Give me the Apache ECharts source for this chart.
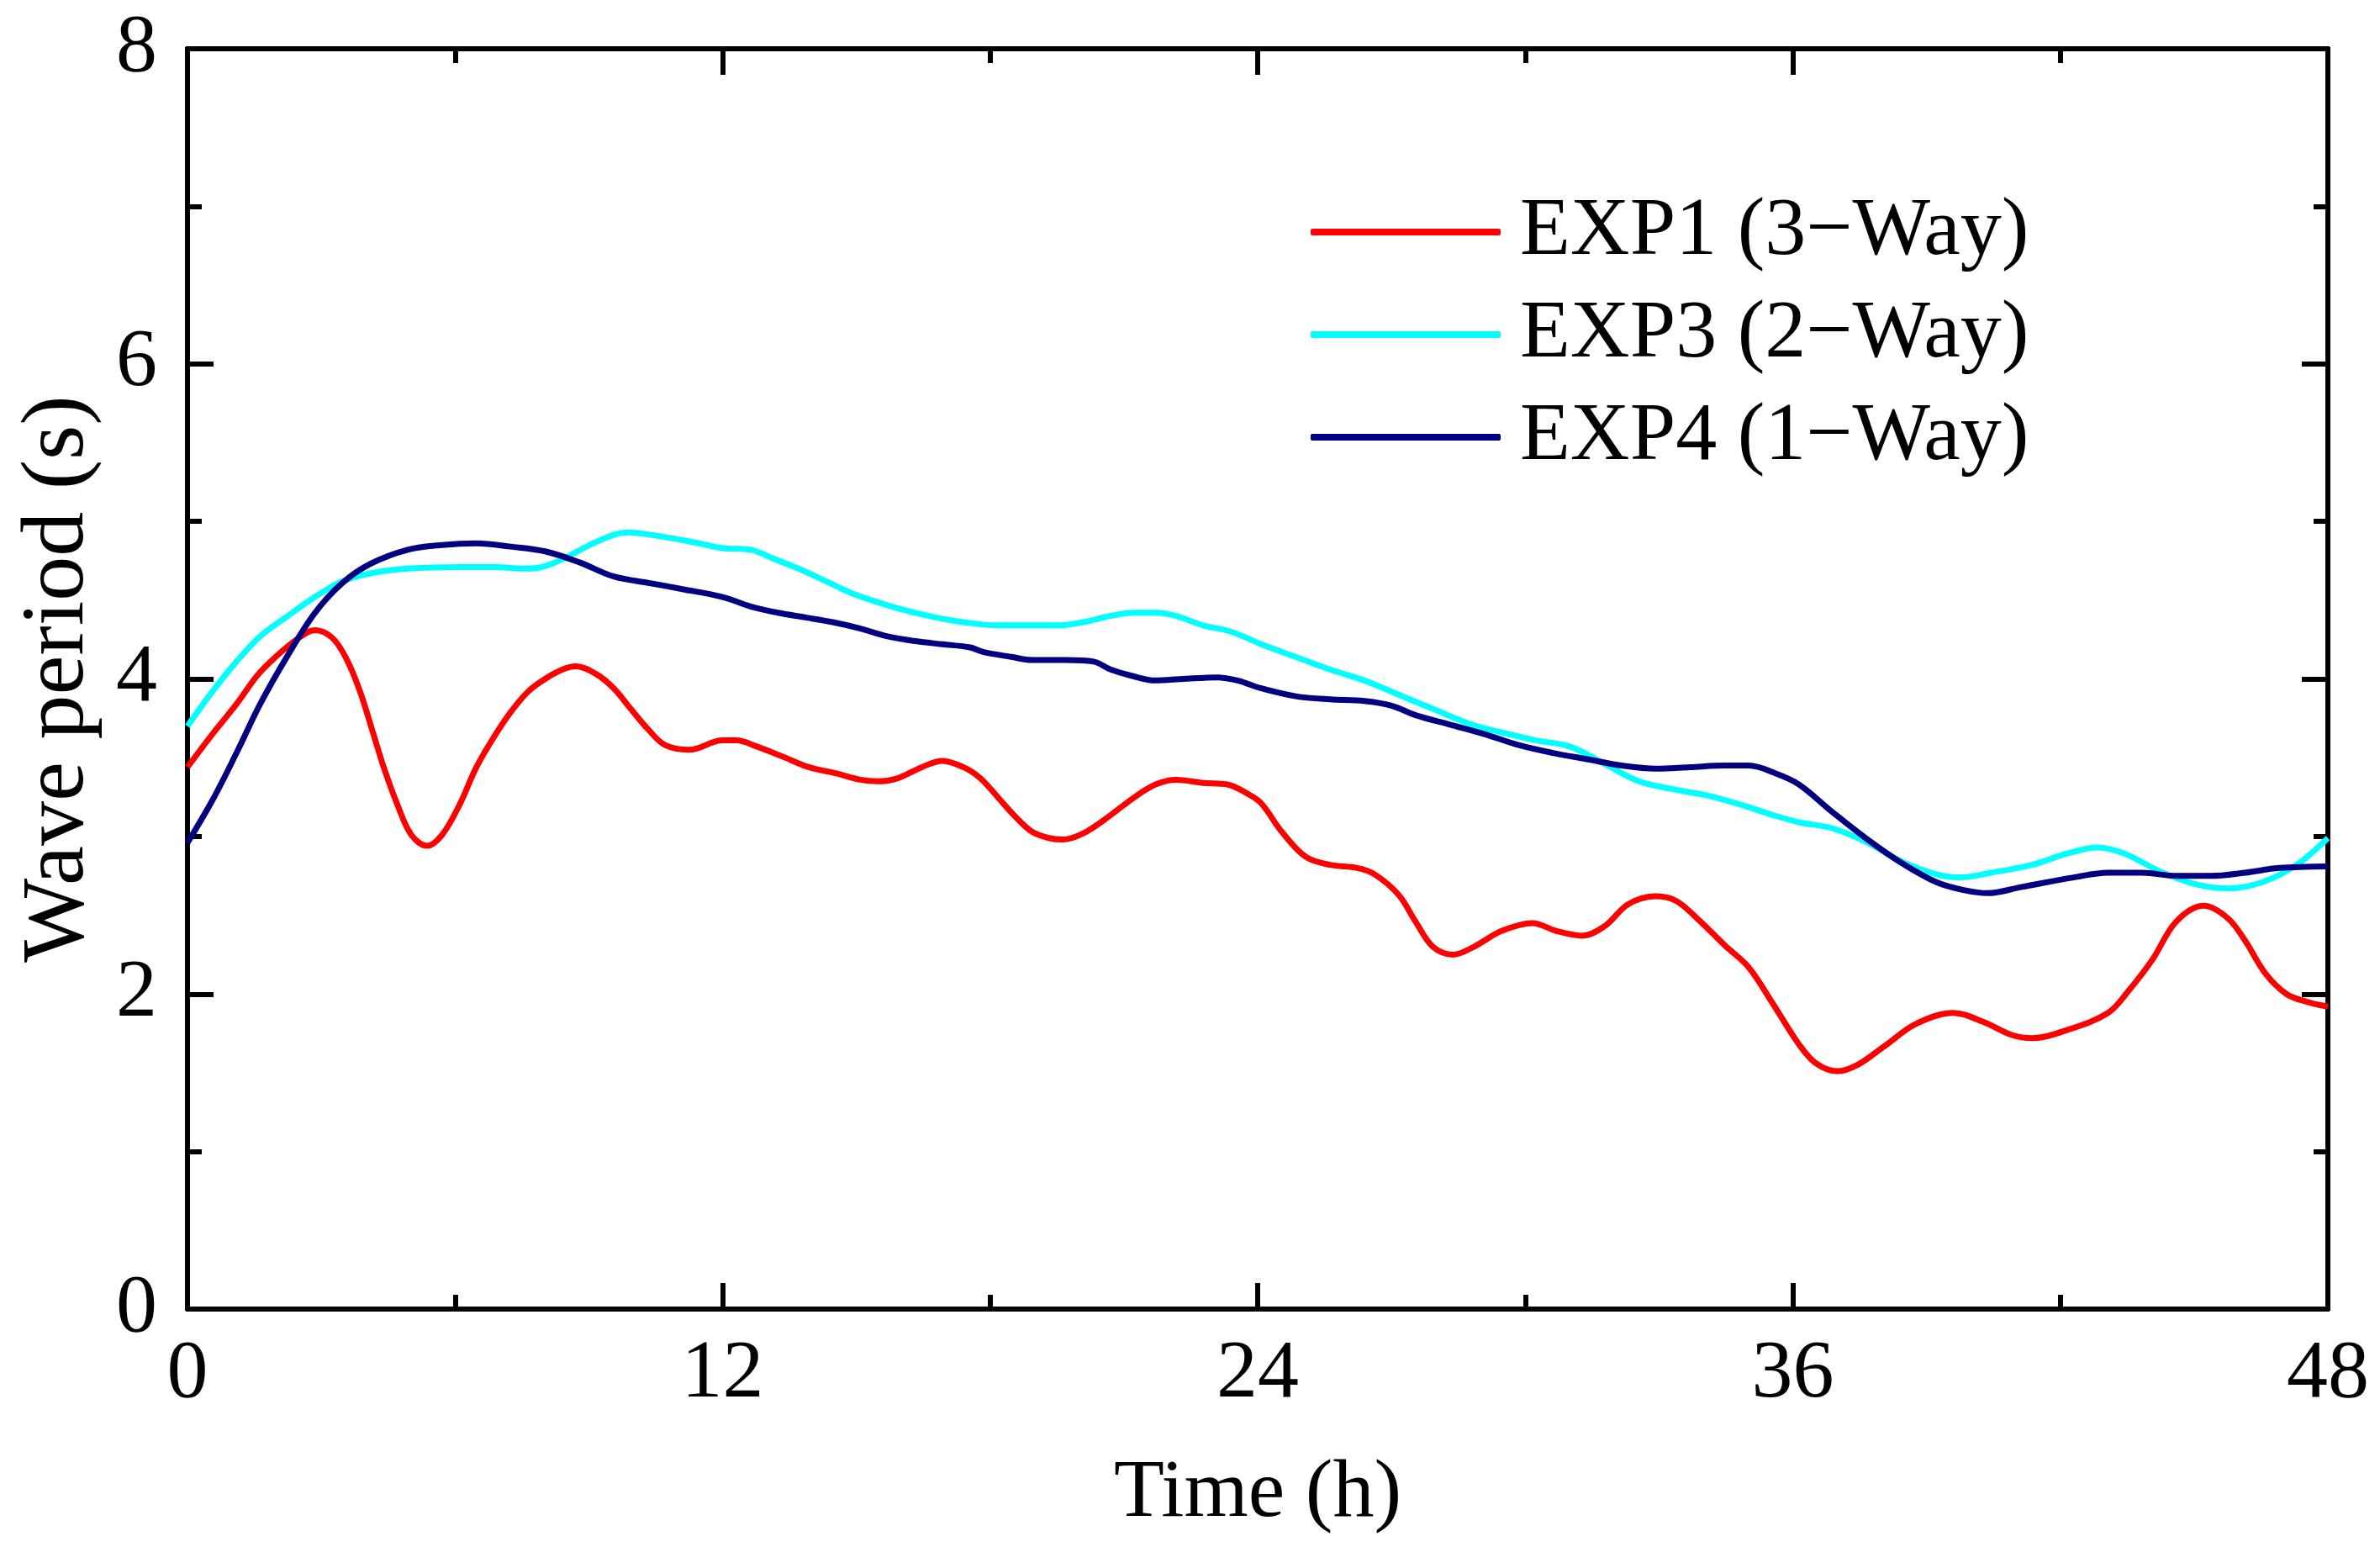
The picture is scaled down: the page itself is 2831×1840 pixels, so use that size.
<!DOCTYPE html>
<html>
<head>
<meta charset="utf-8">
<title>Wave period</title>
<script src="https://cdn.jsdelivr.net/npm/echarts@6/dist/echarts.min.js"></script>
<style>
  html, body { margin: 0; padding: 0; background: #fff; }
  #main { width: 2831px; height: 1840px; }
</style>
</head>
<body>
<div id="main"></div>
<script>
// values (time in hours, wave period in s)
var exp1Time = [0, 0.56, 1.1, 1.56, 1.94, 2.4, 2.86, 3.25, 3.56, 3.87, 4.17, 4.4, 4.71, 5.02, 5.37, 5.71, 6.1, 6.48, 6.87, 7.25, 7.64, 8.02, 8.41, 8.71, 9.17, 9.56, 9.94, 10.33, 10.71, 11.25, 12.0, 12.3, 12.78, 13.32, 13.93, 14.55, 15.09, 15.47, 15.93, 16.47, 16.93, 17.4, 17.78, 18.17, 18.55, 18.94, 19.32, 19.63, 20.09, 20.63, 21.24, 21.71, 22.17, 22.78, 23.32, 23.78, 24.08, 24.54, 25.08, 25.62, 26.23, 26.62, 27.16, 27.54, 27.93, 28.39, 28.85, 29.47, 30.16, 30.7, 31.28, 31.78, 32.31, 32.93, 33.39, 33.93, 34.47, 35.01, 35.55, 36.14, 36.52, 36.99, 37.45, 38.06, 38.76, 39.6, 40.3, 40.91, 41.37, 42.14, 43.07, 43.53, 44.07, 44.6, 45.22, 45.76, 46.14, 46.6, 47.07, 47.53, 48.0];
var exp1Period = [3.44, 3.65, 3.84, 4.02, 4.13, 4.24, 4.31, 4.26, 4.13, 3.92, 3.65, 3.44, 3.20, 3.01, 2.94, 3.01, 3.20, 3.44, 3.63, 3.79, 3.92, 4.00, 4.06, 4.08, 4.03, 3.94, 3.81, 3.68, 3.58, 3.55, 3.61, 3.61, 3.57, 3.51, 3.44, 3.40, 3.36, 3.35, 3.37, 3.44, 3.48, 3.44, 3.37, 3.25, 3.13, 3.03, 2.99, 2.98, 3.02, 3.12, 3.25, 3.33, 3.36, 3.34, 3.33, 3.27, 3.21, 3.03, 2.87, 2.82, 2.80, 2.76, 2.63, 2.46, 2.30, 2.25, 2.30, 2.40, 2.45, 2.40, 2.37, 2.43, 2.57, 2.62, 2.59, 2.46, 2.31, 2.17, 1.94, 1.68, 1.56, 1.51, 1.55, 1.67, 1.81, 1.88, 1.82, 1.74, 1.72, 1.77, 1.88, 2.02, 2.22, 2.46, 2.56, 2.48, 2.34, 2.13, 2.00, 1.95, 1.92];

var exp3Time = [0, 0.56, 1.1, 1.63, 2.25, 2.86, 3.48, 4.1, 4.94, 6.1, 6.87, 7.64, 7.95, 8.41, 9.17, 9.87, 10.71, 11.48, 12.0, 12.63, 13.17, 13.7, 14.32, 14.93, 15.55, 16.17, 16.78, 17.4, 18.17, 18.94, 19.55, 20.09, 20.7, 21.24, 21.71, 22.17, 22.78, 23.4, 24.08, 24.85, 25.62, 26.39, 27.16, 27.93, 28.7, 29.47, 30.24, 31.01, 31.78, 32.55, 33.31, 34.08, 34.85, 35.62, 36.14, 36.91, 37.68, 38.45, 39.22, 39.76, 40.45, 41.37, 42.14, 42.83, 43.45, 44.22, 44.99, 45.76, 46.53, 47.3, 48.0];
var exp3Period = [3.70, 3.92, 4.11, 4.27, 4.40, 4.52, 4.62, 4.67, 4.70, 4.71, 4.71, 4.70, 4.71, 4.76, 4.87, 4.93, 4.90, 4.86, 4.83, 4.82, 4.76, 4.70, 4.62, 4.54, 4.48, 4.43, 4.39, 4.36, 4.34, 4.34, 4.34, 4.36, 4.40, 4.42, 4.42, 4.40, 4.34, 4.30, 4.22, 4.14, 4.06, 3.99, 3.90, 3.81, 3.72, 3.66, 3.61, 3.57, 3.46, 3.35, 3.30, 3.26, 3.20, 3.13, 3.09, 3.05, 2.96, 2.84, 2.76, 2.74, 2.77, 2.82, 2.89, 2.93, 2.89, 2.78, 2.70, 2.67, 2.71, 2.82, 2.99];

var exp4Time = [0, 0.56, 1.1, 1.63, 2.25, 2.86, 3.48, 4.1, 4.94, 5.71, 6.48, 7.25, 8.02, 8.79, 9.56, 10.33, 11.1, 12.0, 12.63, 13.24, 13.86, 14.47, 15.09, 15.7, 16.32, 16.93, 17.55, 17.86, 18.47, 18.94, 19.7, 20.32, 20.7, 21.17, 21.71, 22.32, 23.09, 23.55, 24.08, 24.85, 25.62, 26.39, 27.0, 27.54, 28.31, 29.08, 29.85, 30.62, 31.39, 32.16, 32.93, 33.7, 34.47, 35.01, 35.62, 36.14, 36.91, 37.68, 38.45, 39.22, 39.83, 40.37, 41.14, 42.3, 43.07, 43.83, 44.6, 45.37, 46.14, 46.91, 48.0];
var exp4Period = [2.96, 3.23, 3.53, 3.84, 4.15, 4.42, 4.61, 4.73, 4.82, 4.85, 4.86, 4.84, 4.81, 4.74, 4.65, 4.61, 4.57, 4.52, 4.46, 4.42, 4.39, 4.36, 4.32, 4.27, 4.24, 4.22, 4.20, 4.17, 4.14, 4.12, 4.12, 4.11, 4.06, 4.02, 3.99, 4.00, 4.01, 3.99, 3.94, 3.89, 3.87, 3.86, 3.83, 3.77, 3.71, 3.65, 3.58, 3.53, 3.49, 3.45, 3.43, 3.44, 3.45, 3.45, 3.40, 3.33, 3.15, 2.98, 2.83, 2.71, 2.66, 2.64, 2.68, 2.74, 2.77, 2.77, 2.75, 2.75, 2.77, 2.80, 2.81];

var seriesNames = ["EXP1 (3\u2212Way)", "EXP3 (2\u2212Way)", "EXP4 (1\u2212Way)"];
var seriesColors = ["#ff0000", "#00ffff", "#000080"];

function pairs(xs, ys) {
  var out = [];
  for (var i = 0; i < xs.length; i++) {
    out.push([xs[i], ys[i]]);
  }
  return out;
}

var font = "'Liberation Serif', 'Times New Roman', serif";
var black = "#000";

function makeAxis(pos, isX, showLabel) {
  var axis = {
    type: "value",
    position: pos,
    min: 0,
    max: isX ? 48 : 8,
    interval: isX ? 12 : 2,
    axisLine: { show: true, onZero: false, lineStyle: { color: black, width: 6 } },
    axisTick: { show: true, inside: true, length: 31, lineStyle: { color: black, width: 6 } },
    minorTick: { show: true, splitNumber: 2, length: 17, lineStyle: { color: black, width: 6 } },
    splitLine: { show: false },
    minorSplitLine: { show: false },
    axisLabel: {
      show: showLabel,
      color: black,
      fontFamily: font,
      fontSize: 98,
      margin: isX ? 29 : 36,
    },
  };
  return axis;
}

var xBottom = makeAxis("bottom", true, true);
xBottom.name = "Time (h)";
xBottom.nameLocation = "middle";
xBottom.nameGap = 171;
xBottom.nameTextStyle = { color: black, fontFamily: font, fontSize: 98 };

var yLeft = makeAxis("left", false, true);
yLeft.name = "Wave period (s)";
yLeft.nameLocation = "middle";
yLeft.nameGap = 100;
yLeft.nameTextStyle = { color: black, fontFamily: font, fontSize: 106 };

var chart = echarts.init(document.getElementById("main"), null, { renderer: "canvas" });

var option = {
  backgroundColor: "#fff",
  animation: false,
  grid: { left: 223, right: 62, top: 58, bottom: 283, containLabel: false },
  legend: {
    orient: "vertical",
    left: 1554,
    top: 222,
    itemGap: 24,
    itemWidth: 226,
    itemHeight: 8,
    icon: "roundRect",
    textStyle: { color: black, fontFamily: font, fontSize: 98, padding: [0, 0, 0, 18] },
    data: seriesNames,
  },
  xAxis: [xBottom, makeAxis("top", true, false)],
  yAxis: [yLeft, makeAxis("right", false, false)],
  series: [
    { name: seriesNames[0], data: pairs(exp1Time, exp1Period) },
    { name: seriesNames[1], data: pairs(exp3Time, exp3Period) },
    { name: seriesNames[2], data: pairs(exp4Time, exp4Period) },
  ].map(function (s, i) {
    s.type = "line";
    s.xAxisIndex = 0;
    s.yAxisIndex = 0;
    s.smooth = 0.35;
    s.symbol = "none";
    s.showSymbol = false;
    s.color = seriesColors[i];
    s.lineStyle = { color: seriesColors[i], width: 7 };
    return s;
  }),
};
chart.setOption(option);
</script>
</body>
</html>
